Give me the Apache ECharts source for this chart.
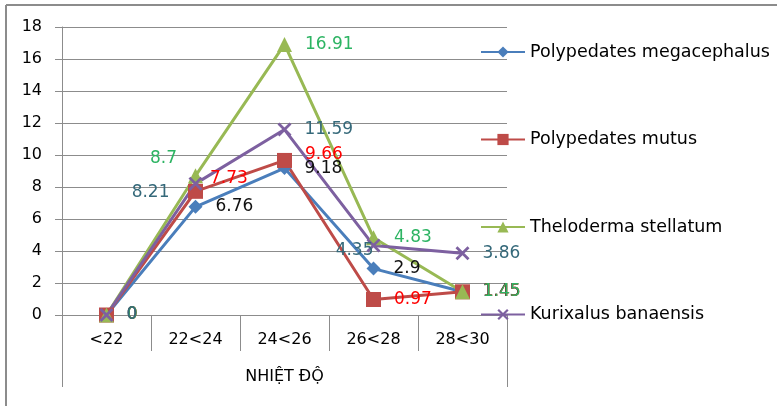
<!DOCTYPE html>
<html>
<head>
<meta charset="utf-8">
<script src="https://cdn.jsdelivr.net/npm/echarts@6/dist/echarts.min.js"></script>
<style>
  html, body { margin: 0; padding: 0; background: #fff; }
  #chart { width: 777px; height: 406px; }
</style>
</head>
<body>
<div id="chart"></div>
<script>
const categories = ['<22', '22<24', '24<26', '26<28', '28<30'];
const axisGroup = ['NHIỆT ĐỘ'];
const megacephalus = [0, 6.76, 9.18, 2.9, 1.45];
const mutus = [0, 7.73, 9.66, 0.97, 1.45];
const stellatum = [0, 8.7, 16.91, 4.83, 1.45];
const banaensis = [0, 8.21, 11.59, 4.35, 3.86];

const FONT = 'DejaVu Sans';
const crossPath = 'path://M0,1.4L1.4,0L10,8.6L8.6,10ZM8.6,0L10,1.4L1.4,10L0,8.6Z';

// label nudges per point (index -> label options)
function withLabels(values, tweaks) {
    return values.map((v, i) => tweaks[i] ? { value: v, label: tweaks[i] } : v);
}

function makeSeries(name, values, color, symbol, size, labelColor, tweaks) {
    return {
        name: name,
        type: 'line',
        data: withLabels(values, tweaks || {}),
        symbol: symbol,
        symbolSize: size,
        lineStyle: { color: color, width: 3 },
        itemStyle: { color: color },
        label: {
            show: true,
            position: 'right',
            distance: 13,
            color: labelColor,
            fontSize: 17,
            fontFamily: FONT
        },
        emphasis: { disabled: true },
        animation: false
    };
}

const chart = echarts.init(document.getElementById('chart'));

const option = {
    animation: false,
    grid: { left: 62, right: 270, top: 27, bottom: 91, containLabel: false },
    graphic: [
        { type: 'line', shape: { x1: 6, y1: 5, x2: 777, y2: 5 }, style: { stroke: '#8c8c8c', lineWidth: 2 } },
        { type: 'line', shape: { x1: 6, y1: 5, x2: 6, y2: 406 }, style: { stroke: '#8c8c8c', lineWidth: 2 } }
    ],
    legend: {
        orient: 'vertical',
        left: 475,
        top: 38,
        itemWidth: 44,
        itemHeight: 14,
        itemGap: 69.5,
        textStyle: { fontSize: 17.5, fontFamily: FONT, color: '#000', lineHeight: 18 },
        data: ['Polypedates megacephalus', 'Polypedates mutus', 'Theloderma stellatum', 'Kurixalus banaensis']
    },
    xAxis: [
        {
            type: 'category',
            data: categories,
            boundaryGap: true,
            axisLine: { show: true, lineStyle: { color: '#8c8c8c', width: 1 } },
            axisTick: { show: true, length: 36, interval: 0, alignWithLabel: false, lineStyle: { color: '#8c8c8c', width: 1 } },
            axisLabel: { interval: 0, margin: 17, fontSize: 16, fontFamily: FONT, color: '#000' }
        },
        {
            type: 'category',
            data: axisGroup,
            position: 'bottom',
            offset: 36,
            boundaryGap: true,
            axisLine: { show: false },
            axisTick: { show: true, length: 36, alignWithLabel: false, lineStyle: { color: '#8c8c8c', width: 1 } },
            axisLabel: { margin: 18, fontSize: 16, fontFamily: FONT, color: '#000' }
        }
    ],
    yAxis: {
        type: 'value',
        min: 0,
        max: 18,
        interval: 2,
        axisLine: { show: true, lineStyle: { color: '#8c8c8c', width: 1 } },
        axisTick: { show: true, length: 7, lineStyle: { color: '#8c8c8c' } },
        axisLabel: { margin: 20, fontSize: 16, fontFamily: FONT, color: '#000' },
        splitLine: { lineStyle: { color: '#8c8c8c', width: 1 } }
    },
    series: [
        makeSeries('Polypedates megacephalus', megacephalus, '#4A7EBB', 'diamond', 14, '#111'),
        makeSeries('Polypedates mutus', mutus, '#BE4B48', 'rect', 15, '#FF0000', {
            1: { distance: 7, offset: [0, -13] },
            2: { offset: [0, -6] }
        }),
        makeSeries('Theloderma stellatum', stellatum, '#98B954', 'triangle', 15, '#2DB463', {
            1: { position: 'left', distance: 11, offset: [0, -17] }
        }),
        makeSeries('Kurixalus banaensis', banaensis, '#7D60A0', crossPath, 14, '#35697A', {
            1: { position: 'left', distance: 19, offset: [0, 9] },
            3: { position: 'left', distance: -7, offset: [0, 5] }
        })
    ]
};

chart.setOption(option);
</script>
</body>
</html>
